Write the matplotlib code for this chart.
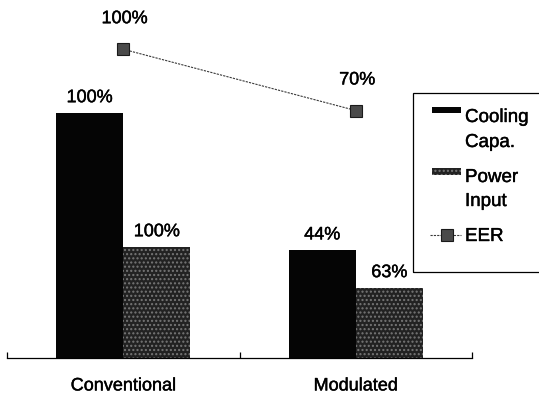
import numpy as np
import matplotlib.pyplot as plt
import matplotlib.patheffects as pe
from matplotlib.patches import Rectangle
from matplotlib.lines import Line2D

# Data (bar heights in a common scale, labels as printed)
categories = ['Conventional', 'Modulated']
cooling = [100, 44]
power = [45.3, 28.6]
eer = [126, 101]
cooling_labels = ['100%', '44%']
power_labels = ['100%', '63%']
eer_labels = ['100%', '70%']
legend_labels = [['Cooling', 'Capa.'], ['Power', 'Input'], ['EER']]

plt.rcParams['font.family'] = ['Liberation Sans', 'DejaVu Sans']
FS = 13
BOLDISH = [pe.withStroke(linewidth=0.3, foreground='black')]

COOL_C = '#050505'
POW_C, POW_HATCH = '#222222', '#777777'
EER_C = '#4a4a4a'

fig = plt.figure(figsize=(5.39, 3.99), dpi=100)
W, H = 539, 399


def px(x, y):
    # pixel position (from top-left) -> figure fraction
    return x / W, 1 - y / H


ax = fig.add_axes([7 / W, 41 / H, 465 / W, 358 / H])

x = np.arange(len(categories))
bw = 0.289

ax.bar(x - bw / 2, cooling, width=bw, color=COOL_C, linewidth=0)
ax.bar(x + bw / 2, power, width=bw, color=POW_C, edgecolor=POW_HATCH,
       hatch='....', linewidth=0)
ax.plot(x, eer, color='#3a3a3a', linewidth=0.8, linestyle=(0, (2, 1)),
        marker='s', markersize=8.5, markerfacecolor=EER_C,
        markeredgecolor='#1a1a1a', markeredgewidth=0.8)

for xi, v, lab in zip(x - bw / 2, cooling, cooling_labels):
    ax.annotate(lab, (xi, v), xytext=(0, 11), textcoords='offset points',
                ha='center', va='center', fontsize=FS, path_effects=BOLDISH)
for xi, v, lab in zip(x + bw / 2, power, power_labels):
    ax.annotate(lab, (xi, v), xytext=(0, 11), textcoords='offset points',
                ha='center', va='center', fontsize=FS, path_effects=BOLDISH)
for xi, v, lab in zip(x, eer, eer_labels):
    ax.annotate(lab, (xi, v), xytext=(1, 22), textcoords='offset points',
                ha='center', va='center', fontsize=FS, path_effects=BOLDISH)

ax.set_xlim(-0.5, len(categories) - 0.5)
ax.set_ylim(0, 146.1)
for s in ['top', 'right', 'left']:
    ax.spines[s].set_visible(False)
ax.spines['bottom'].set_linewidth(0.9)
ax.set_yticks([])
ax.set_xticks(x)
ax.set_xticklabels(categories, fontsize=FS)
for t in ax.get_xticklabels():
    t.set_path_effects(BOLDISH)
ax.tick_params(axis='x', which='major', length=0, pad=14)
ax.set_xticks(np.arange(len(categories) + 1) - 0.5, minor=True)
ax.tick_params(axis='x', which='minor', direction='in', length=4, width=0.9)

# legend, drawn by hand (box runs off the right edge like the original)
x0, y0 = px(413, 272)
fig.patches.append(Rectangle((x0, y0), 160 / W, 179 / H,
                             transform=fig.transFigure, fill=False,
                             edgecolor='black', linewidth=0.9))
rx, ry = px(432, 113)
fig.patches.append(Rectangle((rx, ry), 29 / W, 6 / H, transform=fig.transFigure,
                             facecolor=COOL_C, linewidth=0))
rx, ry = px(432, 175)
fig.patches.append(Rectangle((rx, ry), 29 / W, 7 / H, transform=fig.transFigure,
                             facecolor=POW_C, edgecolor=POW_HATCH, hatch='....',
                             linewidth=0))
lx0, ly = px(430, 235)
lx1, _ = px(461, 235)
fig.lines.append(Line2D([lx0, lx1], [ly, ly], transform=fig.transFigure,
                        color='#3a3a3a', linewidth=0.8, linestyle=(0, (2, 1))))
mx, _ = px(447, 235)
fig.lines.append(Line2D([mx], [ly], transform=fig.transFigure, marker='s',
                        markersize=8.5, markerfacecolor=EER_C,
                        markeredgecolor='#1a1a1a', markeredgewidth=0.8))

baselines = [[122, 147], [182, 206], [241]]
for lines, ys in zip(legend_labels, baselines):
    for txt, yb in zip(lines, ys):
        tx, ty = px(465, yb)
        fig.text(tx, ty, txt, ha='left', va='baseline', fontsize=13.5,
                 path_effects=BOLDISH)

fig.savefig('out.png', dpi=100)
